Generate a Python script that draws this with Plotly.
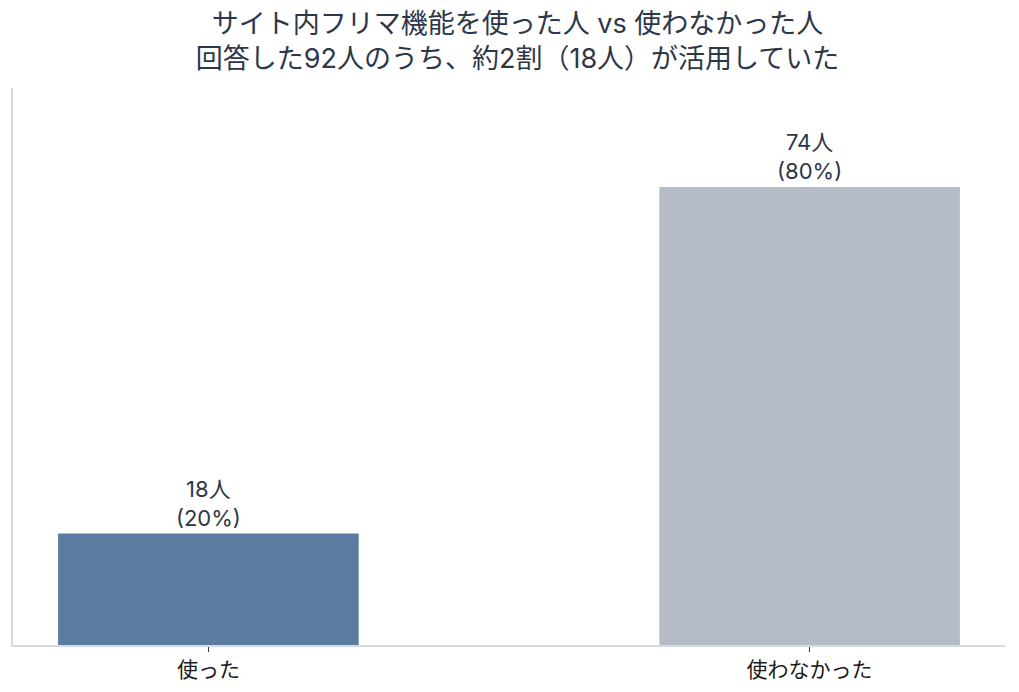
import plotly.graph_objects as go

categories = ["使った", "使わなかった"]
counts = [18, 74]
percents = [20, 80]
bar_colors = ["#5b7ba0", "#b6bcc7"]

title_lines = ["サイト内フリマ機能を使った人 vs 使わなかった人",
               "回答した92人のうち、約2割（18人）が活用していた"]

FONT = "Inter, Noto Sans CJK JP, sans-serif"
TEXT_COLOR = "#2d3748"

labels = [f"{c}人<br>({p}%)" for c, p in zip(counts, percents)]

fig = go.Figure()
fig.add_trace(go.Bar(
    x=categories,
    y=counts,
    width=0.5,
    marker=dict(color=bar_colors, line=dict(width=0)),
    text=labels,
    textposition="outside",
    textfont=dict(size=22, color=TEXT_COLOR, family=FONT),
    cliponaxis=False,
    hoverinfo="skip",
))

fig.update_layout(
    width=1019,
    height=692,
    margin=dict(l=5, r=22, t=80, b=55),
    paper_bgcolor="white",
    plot_bgcolor="white",
    font=dict(family=FONT, color=TEXT_COLOR),
    title=dict(
        text="<br>".join(title_lines),
        x=0.5,
        xanchor="center",
        y=0.964,
        yref="container",
        yanchor="middle",
        font=dict(size=27, color=TEXT_COLOR, family=FONT),
    ),
    showlegend=False,
)
fig.update_xaxes(
    range=[-0.325, 1.325],
    showline=True,
    linecolor="#d5d9e0",
    linewidth=1.5,
    ticks="outside",
    ticklen=5,
    tickcolor=TEXT_COLOR,
    tickfont=dict(size=21, color="#1a1a1a", family=FONT),
    showgrid=False,
)
fig.update_yaxes(
    range=[0, 90],
    showline=True,
    linecolor="#d5d9e0",
    linewidth=1.5,
    showticklabels=False,
    showgrid=False,
    zeroline=False,
    ticks="",
)

fig.write_html("out.html")
